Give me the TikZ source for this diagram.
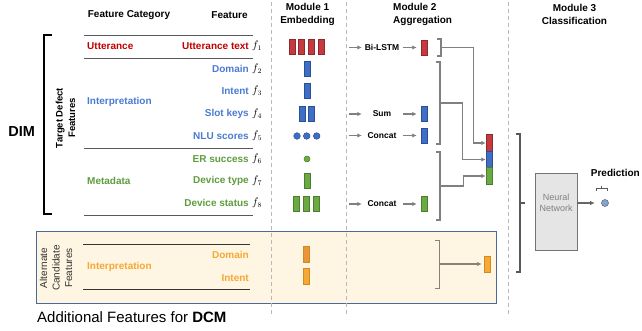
\documentclass[tikz,border=0pt]{standalone}
\usepackage{fontspec}
\setmainfont{Liberation Sans}
\usetikzlibrary{calc,arrows.meta}
\definecolor{uttred}{HTML}{C00000}
\definecolor{intblue}{HTML}{4A7BD0}
\definecolor{metagreen}{HTML}{5E9C3C}
\definecolor{altorange}{HTML}{F5A833}
\definecolor{barred}{HTML}{C53A3E}
\definecolor{barredbd}{HTML}{8E2A2D}
\definecolor{barblue}{HTML}{3F6EC6}
\definecolor{barbluebd}{HTML}{2B4F93}
\definecolor{bargreen}{HTML}{6BAA42}
\definecolor{bargreenbd}{HTML}{4B7E2E}
\definecolor{altdark}{HTML}{EA9538}
\definecolor{altbd}{HTML}{D08A20}
\definecolor{dcmfill}{HTML}{FEF5E2}
\definecolor{dcmborder}{HTML}{4A6A9C}
\definecolor{dcmbrk}{HTML}{8C8272}
\definecolor{predfill}{HTML}{8AA2C8}
\definecolor{predbd}{HTML}{5A7099}
\newcommand{\closebrk}[4]{\draw[#1] (#2-4,#3) -- (#2,#3) -- (#2,#4) -- (#2-4,#4);}

\tikzset{
  lbl/.style={font=\bfseries\fontsize{10}{12.5}\selectfont, inner sep=1pt},
  head/.style={lbl, align=center},
  bar/.style={draw, line width=0.5pt, minimum width=6pt, minimum height=15pt, inner sep=0pt},
  dot/.style={draw, circle, line width=0.5pt, minimum size=6.6pt, inner sep=0pt},
  op/.style={font=\bfseries\fontsize{8.5}{10}\selectfont, minimum width=40pt, inner sep=0pt},
  garr/.style={draw=gray, line width=1.3pt, -{Latex[length=4.5pt,width=4.5pt]}},
  brk/.style={draw=gray, line width=1.3pt},
  rule/.style={draw=black!65, line width=0.9pt},
  sep/.style={draw=gray!55, line width=0.8pt, dash pattern=on 4pt off 3pt},
}

\begin{document}
\begin{tikzpicture}[x=1pt,y=-1pt]
  \useasboundingbox (0,0) rectangle (642,331);

  % alternate candidate box goes under the separators
  \draw[draw=dcmborder, fill=dcmfill, line width=1pt] (36,231) rectangle (496,303);
  \foreach \x in {271,346,508}
    \draw[sep] (\x,2) -- (\x,314);

  % headers
  \node[head] (hcat) at (129,15) {Feature Category};
  \node[head] (hfeat) at (229.5,15) {Feature};
  \node[head] (hm1) at (307.5,14.5) {Module 1\\Embedding};
  \node[head, align=left, anchor=west] (hm2) at (392,14.5) {Module 2\\Aggregation};
  \node[head] (hm3) at (574.5,14.5) {Module 3\\Classification};

  % feature table
  \foreach \y in {35,58,148,215}
    \draw[rule] (84,\y) -- (253,\y);
  \node[lbl, text=uttred, anchor=west] (cat1) at (86,46) {Utterance};
  \node[lbl, text=intblue, anchor=west] (cat2) at (86,102) {Interpretation};
  \node[lbl, text=metagreen, anchor=west] (cat3) at (86,181) {Metadata};
  \foreach \txt/\col/\y [count=\i] in {Utterance text/uttred/46, Domain/intblue/69,
      Intent/intblue/91, Slot keys/intblue/114, NLU scores/intblue/136,
      ER success/metagreen/159, Device type/metagreen/181, Device status/metagreen/203} {
    \node[lbl, text=\col, anchor=east] (feat\i) at (250,\y) {\txt};
    \node[anchor=west, inner sep=1pt, font=\fontsize{10.5}{12}\selectfont] (f\i) at (251,\y) {$f_{\i}$};
  }

  \draw[line width=1.5pt] (52,35) -- (44,35) -- (44,214) -- (52,214);
  \node[font=\bfseries\fontsize{14.5}{17}\selectfont] (dim) at (21.7,131.5) {DIM};
  \node[rotate=90, align=center, font=\bfseries\fontsize{9.5}{12.5}\selectfont] (tdf) at (65.5,118) {Target Defect\\Features};

  % module 1
  \foreach \x [count=\k] in {292,301.7,311.3,321}
    \node[bar, fill=barred, draw=barredbd] (e1-\k) at (\x,47) {};
  \node[bar, fill=barblue, draw=barbluebd] (e2) at (307,69) {};
  \node[bar, fill=barblue, draw=barbluebd] (e3) at (307,91) {};
  \foreach \x [count=\k] in {302,311.6}
    \node[bar, fill=barblue, draw=barbluebd] (e4-\k) at (\x,114) {};
  \foreach \x [count=\k] in {297,306.7,316.7}
    \node[dot, fill=barblue, draw=barbluebd] (e5-\k) at (\x,136) {};
  \node[dot, minimum size=6pt, fill=bargreen, draw=bargreenbd] (e6) at (307,159) {};
  \node[bar, fill=bargreen, draw=bargreenbd] (e7) at (307,181) {};
  \foreach \x [count=\k] in {296,306.5,316.5}
    \node[bar, fill=bargreen, draw=bargreenbd] (e8-\k) at (\x,204) {};

  % module 2
  \foreach \lab/\fc/\bc/\y [count=\k] in {Bi-LSTM/barred/barredbd/47.5, Sum/barblue/barbluebd/114,
      Concat/barblue/barbluebd/135.5, Concat/bargreen/bargreenbd/204} {
    \coordinate (in\k) at (349,\y);
    \node[op] (op\k) at (382,\y) {\lab};
    \node[bar, fill=\fc, draw=\bc] (ag\k) at (424.5,\y) {};
    \draw[garr] (in\k) -- (op\k);
    \draw[garr, shorten >=4.5pt, shorten <=1pt] (op\k) -- (ag\k);
  }

  \closebrk{brk}{441}{39}{56}
  \closebrk{brk}{440}{62}{144}
  \closebrk{brk}{440}{152}{220}
  \coordinate (b1) at (441,47.5);
  \coordinate (b2) at (440,103);
  \coordinate (b3) at (440,186);

  \node[bar, minimum height=16.5pt, fill=barred, draw=barredbd] (cr) at (489,143) {};
  \node[bar, minimum height=16.5pt, fill=barblue, draw=barbluebd] (cb) at (489,159.5) {};
  \node[bar, minimum height=16.5pt, fill=bargreen, draw=bargreenbd] (cg) at (489,176) {};
  \draw[garr] (b1) -| ([xshift=-12pt]cr.west) -- (cr.west);
  \draw[garr] (b2) -| ([xshift=-23pt]cb.west) -- (cb.west);
  \draw[garr] (b3) -| ([xshift=-22pt]cg.west) -- (cg.west);

  % module 3
  \closebrk{brk, draw=black!65}{520}{134}{272}
  \draw[brk, draw=black!65] (520,203) -- (525,203);
  \node[draw=black!55, fill=black!10, line width=0.8pt, minimum width=42pt, minimum height=77pt] (nn) at (556,211.5) {};
  \node[text=gray, align=center, font=\fontsize{9}{10.5}\selectfont] (nntxt) at (556,203) {Neural\\Network};
  \node[circle, draw=predbd, fill=predfill, line width=0.6pt, minimum size=7pt, inner sep=0pt] (pred) at (605,203) {};
  \draw[garr, draw=black!60, shorten >=6.5pt] (nn.east |- nntxt) -- (pred);
  \draw[draw=black!65, line width=1pt] (596,191) -- (596,189) -- (607,189) -- (607,191)
    (601.5,189) -- (601.5,186.5);
  \node[lbl, anchor=east] (predlbl) at (641,173) {Prediction};

  % alternate candidate features
  \draw[rule, draw=black!60!dcmbrk] (83,244.3) -- (250,244.3) (83,289.7) -- (250,289.7);
  \node[lbl, text=altorange, anchor=west] (altcat) at (86,267) {Interpretation};
  \node[lbl, text=altorange, anchor=east] (altdom) at (250,255) {Domain};
  \node[lbl, text=altorange, anchor=east] (altint) at (250,278) {Intent};
  \node[rotate=90, align=center, font=\fontsize{10}{12.5}\selectfont, text=black!80] (altlbl) at (56,268) {Alternate\\Candidate\\Features};
  \node[bar, minimum height=16pt, fill=altdark, draw=altbd] (alt1) at (306.5,254.5) {};
  \node[bar, minimum height=16pt, fill=altorange, draw=altbd] (alt2) at (306.5,276) {};
  \closebrk{brk, draw=dcmbrk}{439.3}{240.7}{288.3}
  \coordinate (b4) at (439.3,264);
  \node[bar, minimum height=16.5pt, fill=altorange, draw=altbd] (altag) at (487,264) {};
  \draw[garr, draw=dcmbrk, shorten >=2pt] (b4) -- (altag);

  \node[anchor=west, inner sep=0pt, font=\fontsize{15}{18}\selectfont] (dcmlbl) at (37,316.7) {Additional Features for \textbf{DCM}};
\end{tikzpicture}
\end{document}
